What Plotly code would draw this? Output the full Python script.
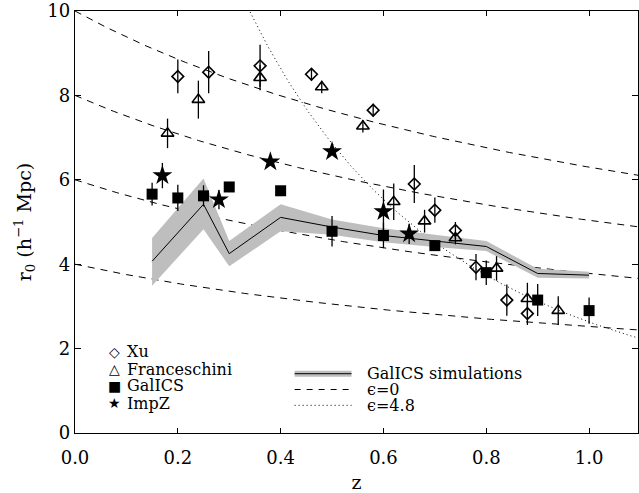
import numpy as np
import plotly.graph_objects as go

# ---------------- data ----------------
xu_z = [0.20, 0.26, 0.36, 0.46, 0.58, 0.66, 0.70, 0.74, 0.78, 0.84, 0.88]
xu_r = [8.45, 8.55, 8.70, 8.50, 7.65, 5.90, 5.28, 4.80, 3.93, 3.15, 2.83]
xu_err = [0.40, 0.50, 0.50, 0.15, 0.15, 0.45, 0.30, 0.20, 0.31, 0.37, 0.27]

fr_z = [0.18, 0.24, 0.36, 0.48, 0.56, 0.62, 0.68, 0.74, 0.82, 0.88, 0.94]
fr_r = [7.10, 7.90, 8.42, 8.20, 7.27, 5.48, 5.02, 4.62, 3.90, 3.18, 2.90]
fr_err = [0.35, 0.45, 0.30, 0.15, 0.15, 0.43, 0.27, 0.15, 0.29, 0.38, 0.34]

gal_z = [0.15, 0.20, 0.25, 0.30, 0.40, 0.50, 0.60, 0.70, 0.80, 0.90, 1.00]
gal_r = [5.66, 5.57, 5.62, 5.83, 5.74, 4.78, 4.68, 4.44, 3.80, 3.15, 2.90]
gal_err = [0.27, 0.31, 0.25, 0.0, 0.0, 0.36, 0.30, 0.0, 0.29, 0.38, 0.31]

imp_z = [0.17, 0.28, 0.38, 0.50, 0.60, 0.65]
imp_r = [6.10, 5.53, 6.43, 6.67, 5.25, 4.72]
imp_err = [0.30, 0.23, 0.0, 0.0, 0.52, 0.24]

sim_z = [0.15, 0.25, 0.30, 0.40, 0.50, 0.60, 0.70, 0.80, 0.90, 1.00]
sim_r = [4.07, 5.42, 4.25, 5.11, 4.88, 4.68, 4.55, 4.42, 3.78, 3.74]
sim_lo = [3.49, 4.83, 3.95, 4.78, 4.70, 4.52, 4.41, 4.31, 3.68, 3.66]
sim_hi = [4.62, 6.03, 4.55, 5.42, 5.06, 4.85, 4.70, 4.55, 3.89, 3.82]

# model curves r0(z) = r0(0) (1+z)^(-(3-gamma+eps)/gamma)
gamma = 1.8
eps0_r0 = [4.0, 6.0, 8.0, 10.0]
eps48_r0 = [26.5]
eps_values = [0.0, 4.8]

x_ticks = [0.0, 0.2, 0.4, 0.6, 0.8, 1.0]
y_ticks = [0, 2, 4, 6, 8, 10]

FONT = "DejaVu Serif"

fig = go.Figure()

zm = np.linspace(0.0, 1.1, 221)
for r0 in eps0_r0:
    fig.add_trace(go.Scatter(
        x=zm, y=r0 * (1 + zm) ** (-(3 - gamma + eps_values[0]) / gamma),
        mode="lines", line=dict(color="black", width=1, dash="7px,6px"),
        showlegend=False, hoverinfo="skip"))
zd = np.linspace(0.25, 1.1, 200)
for r0 in eps48_r0:
    fig.add_trace(go.Scatter(
        x=zd, y=r0 * (1 + zd) ** (-(3 - gamma + eps_values[1]) / gamma),
        mode="lines", line=dict(color="black", width=1, dash="1px,3px"),
        showlegend=False, hoverinfo="skip"))

# simulation band
fig.add_trace(go.Scatter(x=sim_z, y=sim_lo, mode="lines", line=dict(width=0, color="#bebebe"),
                         showlegend=False, hoverinfo="skip"))
fig.add_trace(go.Scatter(x=sim_z, y=sim_hi, mode="lines", line=dict(width=0, color="#bebebe"),
                         fill="tonexty", fillcolor="#bebebe", showlegend=False, hoverinfo="skip"))
fig.add_trace(go.Scatter(x=sim_z, y=sim_r, mode="lines", line=dict(color="black", width=1),
                         name="GalICS simulations", showlegend=False))

def err(arr):
    return dict(type="data", array=arr, visible=True, width=0, thickness=1.3, color="black")

fig.add_trace(go.Scatter(x=xu_z, y=xu_r, mode="markers", name="Xu", error_y=err(xu_err),
                         marker=dict(symbol="diamond-open", size=9, color="black", line=dict(width=1.6)),
                         showlegend=False))
fig.add_trace(go.Scatter(x=fr_z, y=fr_r, mode="markers", name="Franceschini", error_y=err(fr_err),
                         marker=dict(symbol="triangle-up-open", size=11, color="black", line=dict(width=1.6)),
                         showlegend=False))
fig.add_trace(go.Scatter(x=gal_z, y=gal_r, mode="markers", name="GalICS", error_y=err(gal_err),
                         marker=dict(symbol="square", size=11, color="black"),
                         showlegend=False))
fig.add_trace(go.Scatter(x=imp_z, y=imp_r, mode="markers", name="ImpZ", error_y=err(imp_err),
                         marker=dict(symbol="star", size=15, color="black", line=dict(width=0)),
                         showlegend=False))

# ---------------- legends (drawn as annotations / shapes in paper space) ----------------
L, R, T, B = 75, 639, 6, 433
def px(xpix):
    return (xpix - L) / (R - L)
def py(ypix):
    return (B - ypix) / (B - T)

left_items = [("◇", "Xu", 350.7), ("△", "Franceschini", 368.3), ("■", "GalICS", 385.0), ("★", "ImpZ", 402.7)]
for glyph, label, yy in left_items:
    fig.add_annotation(x=px(115), y=py(yy), xref="paper", yref="paper", text=glyph, showarrow=False,
                       xanchor="center", yanchor="middle", font=dict(family="DejaVu Sans", size=14, color="black"))
    fig.add_annotation(x=px(125), y=py(yy), xref="paper", yref="paper", text=label, showarrow=False,
                       xanchor="left", yanchor="middle", font=dict(family=FONT, size=16, color="black"))

right_items = [("GalICS simulations", 373.0), ("ϵ=0", 389.0), ("ϵ=4.8", 405.0)]
x0, x1 = px(295), px(352)
fig.add_shape(type="line", xref="paper", yref="paper", x0=x0, x1=x1, y0=py(373), y1=py(373),
              line=dict(color="#bebebe", width=6))
fig.add_shape(type="line", xref="paper", yref="paper", x0=x0, x1=x1, y0=py(373), y1=py(373),
              line=dict(color="black", width=1))
fig.add_shape(type="line", xref="paper", yref="paper", x0=x0, x1=x1, y0=py(389), y1=py(389),
              line=dict(color="black", width=1, dash="6px,6px"))
fig.add_shape(type="line", xref="paper", yref="paper", x0=x0, x1=x1, y0=py(405), y1=py(405),
              line=dict(color="black", width=1, dash="1px,3px"))
for label, yy in right_items:
    fig.add_annotation(x=px(366), y=py(yy), xref="paper", yref="paper", text=label, showarrow=False,
                       xanchor="left", yanchor="middle", font=dict(family=FONT, size=16, color="black"))

fig.update_layout(
    width=639, height=493,
    margin=dict(l=L, r=639 - R, t=T, b=493 - B),
    paper_bgcolor="white", plot_bgcolor="white",
    font=dict(family=FONT, color="black"),
    showlegend=False,
)
fig.update_xaxes(range=[0, (R - L) / 515.0], tickvals=x_ticks, ticktext=[f"{v:.1f}" for v in x_ticks],
                 ticks="inside", ticklen=5, tickwidth=1, tickcolor="black",
                 showline=True, linecolor="black", linewidth=1.3, mirror="ticks",
                 showgrid=False, zeroline=False, tickfont=dict(family=FONT, size=18),
                 ticklabelstandoff=8, ticklabeloverflow="allow",
                 title=dict(text="z", font=dict(family=FONT, size=19), standoff=12))
fig.update_yaxes(range=[0, 10], tickvals=y_ticks, ticktext=[str(v) for v in y_ticks],
                 ticks="inside", ticklen=6, tickwidth=1, tickcolor="black",
                 showline=True, linecolor="black", linewidth=1.3, mirror="ticks",
                 showgrid=False, zeroline=False, tickfont=dict(family=FONT, size=18),
                 ticklabeloverflow="allow",
                 title=dict(text="r<sub>0</sub> (h<sup>−1</sup> Mpc)", font=dict(family=FONT, size=19), standoff=10))

fig.write_html("out.html")
